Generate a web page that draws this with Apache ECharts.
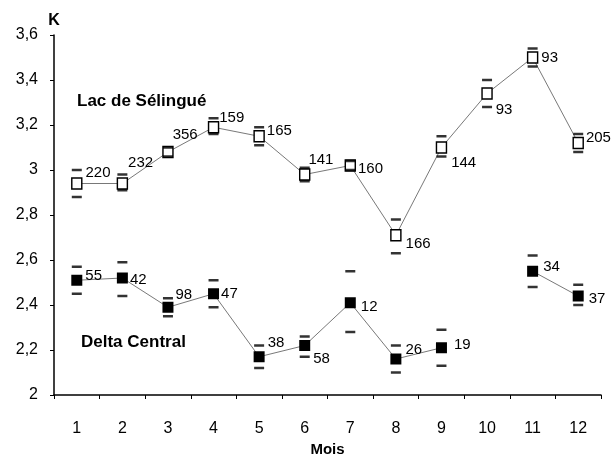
<!DOCTYPE html>
<html>
<head>
<meta charset="utf-8">
<script src="https://cdn.jsdelivr.net/npm/echarts@6/dist/echarts.min.js"></script>
<style>html,body{margin:0;padding:0;background:#fff}#c{width:615px;height:461px}</style>
</head>
<body>
<div id="c"></div>
<script>
// ---- data ----
const months = ['1','2','3','4','5','6','7','8','9','10','11','12'];
const yTicks = [2, 2.2, 2.4, 2.6, 2.8, 3, 3.2, 3.4, 3.6];

const lacMean = [2.94, 2.94, 3.08, 3.19, 3.15, 2.98, 3.02, 2.71, 3.10, 3.34, 3.50, 3.12];
const lacHigh = [3.00, 2.98, 3.10, 3.23, 3.19, 3.01, 3.04, 2.78, 3.15, 3.40, 3.54, 3.16];
const lacLow  = [2.88, 2.91, 3.06, 3.16, 3.11, 2.95, 3.00, 2.63, 3.06, 3.28, 3.46, 3.08];
const lacN    = [220, 232, 356, 159, 165, 141, 160, 166, 144, 93, 93, 205];

const delMean = [2.51, 2.52, 2.39, 2.45, 2.17, 2.22, 2.41, 2.16, 2.21, null, 2.55, 2.44];
const delHigh = [2.57, 2.59, 2.43, 2.51, 2.22, 2.26, 2.55, 2.22, 2.29, null, 2.62, 2.49];
const delLow  = [2.45, 2.44, 2.35, 2.39, 2.12, 2.17, 2.28, 2.10, 2.13, null, 2.48, 2.40];
const delN    = [55, 42, 98, 47, 38, 58, 12, 26, 19, null, 34, 37];

// label placement (offsets relative to right side of the marker)
const lacLabelOff = [[3,-11],[0,-21],[-1,-17],[0,-9],[2,-5],[-2,-15],[2,3],[4,9],[4,15],[3,16],[3,0],[2,-5]];
const delLabelOff = [[3,-4],[2,2],[2,-12],[2,0],[3,-14],[3,13],[5,4],[4,-9],[7,-3],[0,0],[5,-4],[5,3]];

const FONT = '"Liberation Sans", Arial, sans-serif';

function fmtY(v){ return String(+(+v).toFixed(1)).replace('.', ','); }

function meanData(vals, counts, offs){
  return vals.map((v,i)=> v==null ? '-' : {
    value: v,
    label: { show: true, position: 'right', distance: 0, offset: offs[i], formatter: String(counts[i]) }
  });
}
function errData(hi, lo){
  const out = [];
  hi.forEach((v,i)=>{ if(v!=null) out.push([i, v]); });
  lo.forEach((v,i)=>{ if(v!=null) out.push([i, v]); });
  return out;
}

const chart = echarts.init(document.getElementById('c'), null, {renderer:'canvas'});
chart.setOption({
  backgroundColor: '#fff',
  animation: false,
  grid: { left: 54, right: 14, top: 35, bottom: 66, containLabel: false, outerBoundsMode: 'none' },
  xAxis: {
    type: 'category', data: months, boundaryGap: true,
    name: 'Mois', nameLocation: 'middle', nameGap: 45,
    nameTextStyle: { fontFamily: FONT, fontWeight: 'bold', fontSize: 15, color: '#000' },
    axisLine: { lineStyle: { color: '#000', width: 1.5 } },
    axisTick: { show: true, length: 4, lineStyle: { color: '#000' } },
    axisLabel: { fontFamily: FONT, fontSize: 16, color: '#000', margin: 26 },
    splitLine: { show: false }
  },
  yAxis: {
    type: 'value', min: 2, max: 3.6, interval: 0.2,
    name: 'K', nameLocation: 'end', nameGap: 6,
    nameTextStyle: { fontFamily: FONT, fontWeight: 'bold', fontSize: 16, color: '#000' },
    axisLine: { show: true, lineStyle: { color: '#000', width: 1.5 } },
    axisTick: { show: true, length: 4, lineStyle: { color: '#000' } },
    axisLabel: { fontFamily: FONT, fontSize: 16, color: '#000', margin: 16,
      formatter: v => yTicks.some(t => Math.abs(t - v) < 1e-6) ? fmtY(v) : '' },
    splitLine: { show: false }
  },
  graphic: [
    { type: 'text', left: 77, top: 93, style: { text: 'Lac de Sélingué', font: 'bold 17px ' + FONT, fill: '#000' } },
    { type: 'text', left: 81, top: 334, style: { text: 'Delta Central', font: 'bold 17px ' + FONT, fill: '#000' } }
  ],
  series: [
    {
      type: 'line', data: meanData(lacMean, lacN, lacLabelOff),
      symbol: 'rect', symbolSize: [10, 11],
      itemStyle: { color: '#fff', borderColor: '#000', borderWidth: 1.5 },
      lineStyle: { color: '#555', width: 0.8 },
      label: { fontFamily: FONT, fontSize: 15, color: '#000' },
      z: 3
    },
    {
      type: 'line', data: meanData(delMean, delN, delLabelOff), connectNulls: false,
      symbol: 'rect', symbolSize: [11, 11],
      itemStyle: { color: '#000', borderColor: '#000', borderWidth: 0 },
      lineStyle: { color: '#555', width: 0.8 },
      label: { fontFamily: FONT, fontSize: 15, color: '#000' },
      z: 3
    },
    {
      type: 'scatter', data: errData(lacHigh, lacLow),
      symbol: 'rect', symbolSize: [10, 2.5],
      itemStyle: { color: '#000' }, z: 4
    },
    {
      type: 'scatter', data: errData(delHigh, delLow),
      symbol: 'rect', symbolSize: [10, 2.5],
      itemStyle: { color: '#000' }, z: 4
    }
  ]
});
</script>
</body>
</html>
